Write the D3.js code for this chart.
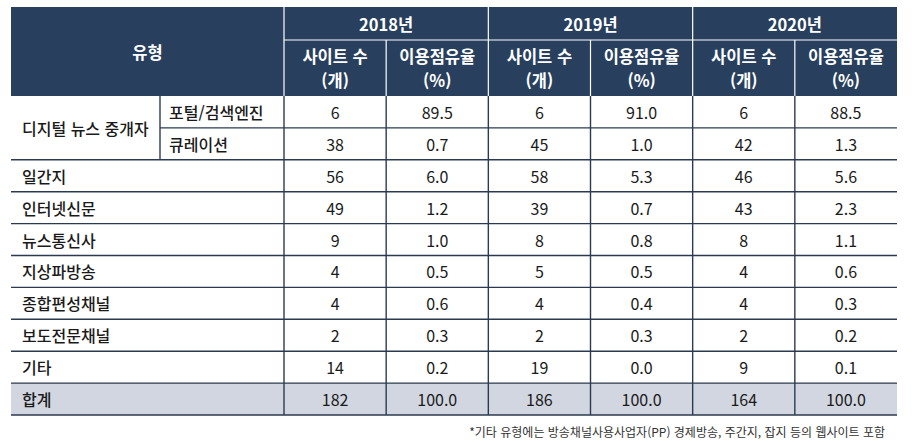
<!DOCTYPE html>
<html lang="ko">
<head>
    <meta charset="UTF-8">
    <title>유형별 사이트 수 및 이용점유율</title>
    <script src="https://d3js.org/d3.v7.min.js"></script>
    <style>
        html, body {
            margin: 0;
            background: #fff;
            font-family: "Noto Sans CJK KR", "Noto Sans", sans-serif;
        }
    </style>
</head>
<body>
    <div id="vis"></div>
    <script>
        var years = ["2018년", "2019년", "2020년"];
        var subHeads = [["사이트 수", "(개)"], ["이용점유율", "(%)"]];
        var groupLabel = "디지털 뉴스 중개자";
        var subTypes = ["포털/검색엔진", "큐레이션"];
        var types = ["일간지", "인터넷신문", "뉴스통신사", "지상파방송", "종합편성채널", "보도전문채널", "기타", "합계"];

        var sites2018 = [6, 38, 56, 49, 9, 4, 4, 2, 14, 182];
        var share2018 = [89.5, 0.7, 6.0, 1.2, 1.0, 0.5, 0.6, 0.3, 0.2, 100.0];
        var sites2019 = [6, 45, 58, 39, 8, 5, 4, 2, 19, 186];
        var share2019 = [91.0, 1.0, 5.3, 0.7, 0.8, 0.5, 0.4, 0.3, 0.0, 100.0];
        var sites2020 = [6, 42, 46, 43, 8, 4, 4, 2, 9, 164];
        var share2020 = [88.5, 1.3, 5.6, 2.3, 1.1, 0.6, 0.3, 0.2, 0.1, 100.0];

        var note = "*기타 유형에는 방송채널사용사업자(PP) 경제방송, 주간지, 잡지 등의 웹사이트 포함";

        var columns = [sites2018, share2018, sites2019, share2019, sites2020, share2020];

        /*
         *  LAYOUT
         */
        var W = 915, H = 442;
        var tLeft = 11, tRight = 897, tTop = 7, headMid = 40, headBottom = 96, tBottom = 415;
        var typeSplit = 160, dataLeft = 284;
        var navy = "#283f5e", lineCol = "#2b3a4f", totalFill = "#d2d6e0";

        var svg = d3.select("#vis").append("svg")
            .attr("width", W)
            .attr("height", H);

        var x = d3.scaleBand()
            .domain(d3.range(columns.length))
            .range([dataLeft, tRight]);

        var xYear = d3.scaleBand()
            .domain(years)
            .range([dataLeft, tRight]);

        var y = d3.scaleBand()
            .domain(d3.range(sites2018.length))
            .range([headBottom, tBottom]);

        var fmtShare = d3.format(".1f");

        // header background
        svg.append("rect")
            .attr("x", tLeft).attr("y", tTop)
            .attr("width", tRight - tLeft).attr("height", headBottom - tTop)
            .attr("fill", navy);

        // total row background
        var last = sites2018.length - 1;
        svg.append("rect")
            .attr("x", tLeft).attr("y", y(last))
            .attr("width", tRight - tLeft).attr("height", y.bandwidth())
            .attr("fill", totalFill);

        // header white lines
        var hdr = svg.append("g").attr("stroke", "#fff").attr("stroke-width", 1.2);
        hdr.append("line")
            .attr("x1", dataLeft).attr("x2", tRight)
            .attr("y1", headMid).attr("y2", headMid);
        hdr.selectAll(".yv").data(years).enter().append("line")
            .attr("x1", function(d) { return xYear(d); })
            .attr("x2", function(d) { return xYear(d); })
            .attr("y1", tTop).attr("y2", headBottom);
        hdr.selectAll(".sv").data(years).enter().append("line")
            .attr("x1", function(d) { return xYear(d) + xYear.bandwidth() / 2; })
            .attr("x2", function(d) { return xYear(d) + xYear.bandwidth() / 2; })
            .attr("y1", headMid).attr("y2", headBottom);

        // header text
        var ht = svg.append("g")
            .attr("fill", "#fff")
            .attr("font-weight", 700)
            .attr("font-size", 16.5)
            .attr("text-anchor", "middle")
            .attr("dominant-baseline", "central");

        ht.append("text")
            .attr("x", (tLeft + dataLeft) / 2).attr("y", 52)
            .text("유형");

        ht.selectAll(".year").data(years).enter().append("text")
            .attr("x", function(d) { return xYear(d) + xYear.bandwidth() / 2; })
            .attr("y", 24)
            .text(function(d) { return d; });

        columns.forEach(function(col, i) {
            var lab = subHeads[i % 2];
            ht.append("text")
                .attr("x", x(i) + x.bandwidth() / 2).attr("y", 56)
                .text(lab[0]);
            ht.append("text")
                .attr("x", x(i) + x.bandwidth() / 2).attr("y", 80)
                .text(lab[1]);
        });

        // body lines
        var body = svg.append("g").attr("stroke", lineCol).attr("stroke-width", 1.4);
        d3.range(1, sites2018.length + 1).forEach(function(r) {
            var yy = r < sites2018.length ? y(r) : tBottom;
            body.append("line")
                .attr("x1", r === 1 ? typeSplit : tLeft).attr("x2", tRight)
                .attr("y1", yy).attr("y2", yy);
        });
        body.append("line")
            .attr("x1", typeSplit).attr("x2", typeSplit)
            .attr("y1", headBottom).attr("y2", y(2));
        columns.forEach(function(col, i) {
            body.append("line")
                .attr("x1", x(i)).attr("x2", x(i))
                .attr("y1", headBottom).attr("y2", tBottom);
        });

        // row labels
        var lt = svg.append("g")
            .attr("fill", "#1a1a1a")
            .attr("font-size", 16)
            .attr("font-weight", 500)
            .attr("dominant-baseline", "central");

        lt.append("text")
            .attr("x", 22).attr("y", y(1))
            .text(groupLabel);
        subTypes.forEach(function(t, i) {
            lt.append("text")
                .attr("x", typeSplit + 9).attr("y", y(i) + y.bandwidth() / 2)
                .text(t);
        });
        types.forEach(function(t, i) {
            lt.append("text")
                .attr("x", 22).attr("y", y(i + 2) + y.bandwidth() / 2)
                .text(t);
        });

        // cell values
        var vt = svg.append("g")
            .attr("fill", "#1a1a1a")
            .attr("font-size", 16)
            .attr("text-anchor", "middle")
            .attr("dominant-baseline", "central");

        columns.forEach(function(col, i) {
            vt.selectAll(".c" + i).data(col).enter().append("text")
                .attr("x", x(i) + x.bandwidth() / 2)
                .attr("y", function(d, r) { return y(r) + y.bandwidth() / 2; })
                .text(function(d) { return i % 2 ? fmtShare(d) : d; });
        });

        // footnote
        svg.append("text")
            .attr("x", 885).attr("y", 431)
            .attr("text-anchor", "end")
            .attr("dominant-baseline", "central")
            .attr("font-size", 12)
            .attr("fill", "#333")
            .text(note);
    </script>
</body>
</html>
